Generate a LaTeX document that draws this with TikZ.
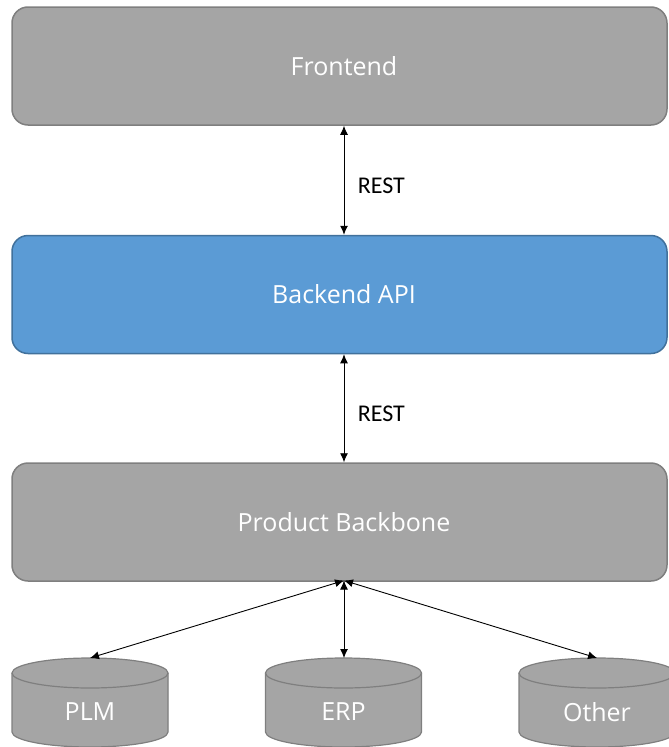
\documentclass[tikz,border=0pt]{standalone}
\usepackage{fontspec}
\setmainfont{Open Sans}
\newfontfamily\calibrifont{Carlito}
\usetikzlibrary{arrows.meta}
\definecolor{boxgray}{HTML}{A5A5A5}
\definecolor{boxgrayline}{HTML}{7F7F7F}
\definecolor{apiblue}{HTML}{5B9BD5}
\definecolor{apibline}{HTML}{41719C}
\newcommand{\layertext}[1]{\hspace*{9pt}#1}
\tikzset{
  layer/.style={rounded corners=16pt, line width=1.5pt, minimum width=655pt,
    minimum height=118pt, text=white, font=\fontsize{25}{28}\selectfont, inner sep=0pt},
  graylayer/.style={layer, draw=boxgrayline, fill=boxgray},
  bluelayer/.style={layer, draw=apibline, fill=apiblue},
  link/.style={line width=0.9pt, {Latex[length=9pt,width=8pt]}-{Latex[length=9pt,width=8pt]}},
  restlabel/.style={font=\calibrifont\fontsize{24}{27}\selectfont, anchor=west},
  dbshape/.style={draw=boxgrayline, fill=boxgray, line width=1.2pt},
  dblabel/.style={text=white, font=\fontsize{25}{28}\selectfont}
}
\begin{document}
\begin{tikzpicture}[x=1pt,y=-1pt]
\useasboundingbox (0,0) rectangle (669,747);
\begin{scope}
\clip (0,0) rectangle (669,747);

% three layers
\node[graylayer] (front) at (339.5,66) {\layertext{Frontend}};
\node[bluelayer] (api) at (339.5,294.5) {\layertext{Backend API}};
\node[graylayer] (backbone) at (339.5,522) {\layertext{Product Backbone}};

% databases: cylinder bodies with elliptic tops
\foreach \cx in {90, 343.5, 597}{
  \fill[boxgray] (\cx-78,673) -- (\cx-78,732) arc[start angle=180,end angle=0,x radius=78,y radius=15]
    -- (\cx+78,673) -- cycle;
  \draw[dbshape] (\cx-78,673) -- (\cx-78,732) arc[start angle=180,end angle=0,x radius=78,y radius=15]
    -- (\cx+78,673);
  \draw[dbshape] (\cx,673) ellipse[x radius=78,y radius=15];
}
\coordinate (plmtop) at (90,658);
\coordinate (erptop) at (344,658);
\coordinate (othertop) at (597,658);
\node[dblabel] (plm) at (90,712) {PLM};
\node[dblabel] (erp) at (343.5,712) {ERP};
\node[dblabel] (other) at (597,712) {Other};

% connectors
\coordinate (bbfoot) at (344,580.5);
\draw[link] (front.south -| bbfoot) -- (api.north -| bbfoot)
  node[restlabel, pos=0.55, xshift=10pt] (rest1) {REST};
\draw[link] (api.south -| bbfoot) -- (backbone.north -| bbfoot)
  node[restlabel, pos=0.55, xshift=10pt] (rest2) {REST};
\draw[link] (bbfoot) -- (plmtop);
\draw[link] (bbfoot) -- (erptop);
\draw[link] (bbfoot) -- (othertop);
\end{scope}
\end{tikzpicture}
\end{document}
